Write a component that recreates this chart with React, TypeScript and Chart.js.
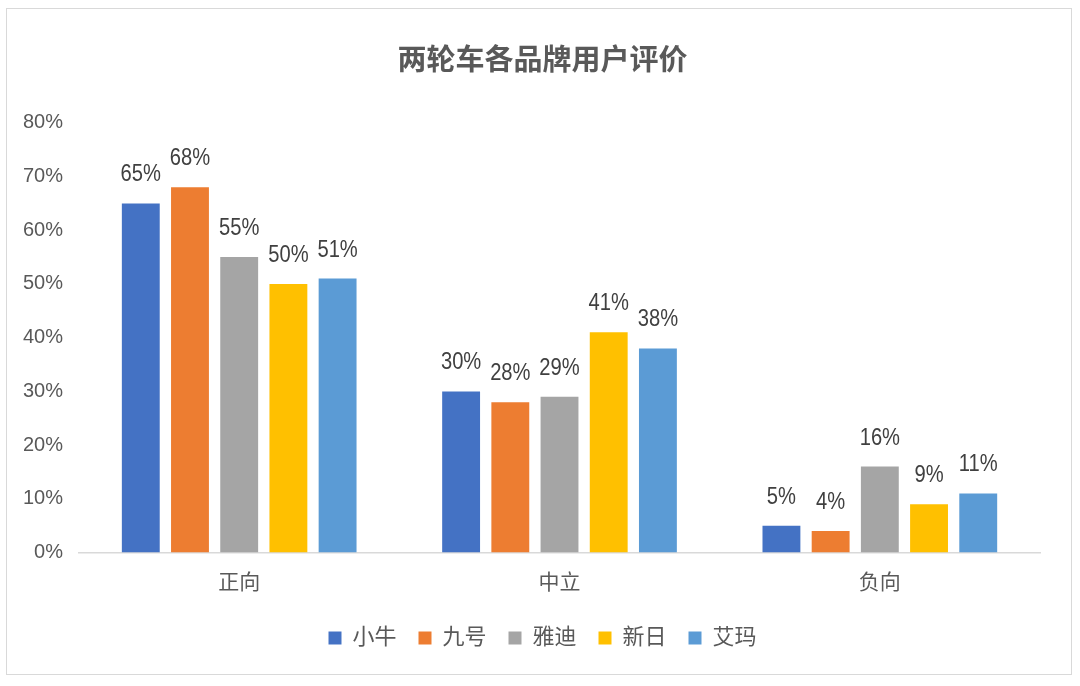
import { useEffect, useRef } from 'react';
import { Chart, registerables } from 'chart.js';
import type { Plugin } from 'chart.js';

Chart.register(...registerables);

// Chart data
const categories = ['正向', '中立', '负向'];
const brands = ['小牛', '九号', '雅迪', '新日', '艾玛'];
const xiaoniu = [65, 30, 5];
const jiuhao = [68, 28, 4];
const yadi = [55, 29, 16];
const xinri = [50, 41, 9];
const aima = [51, 38, 11];
const brandColors = ['#4472C4', '#ED7D31', '#A5A5A5', '#FFC000', '#5B9BD5'];

const FONT = '"Liberation Sans", "Noto Sans CJK SC", Arial, sans-serif';

// Draws the percentage above each bar (squeezed a little, like Excel's narrow digits)
const barLabels: Plugin<'bar'> = {
  id: 'barLabels',
  afterDatasetsDraw(chart) {
    const { ctx } = chart;
    chart.data.datasets.forEach((ds, i) => {
      const meta = chart.getDatasetMeta(i);
      meta.data.forEach((bar, j) => {
        const value = ds.data[j] as number;
        ctx.save();
        ctx.translate(bar.x, bar.y - 22);
        ctx.scale(0.84, 1);
        ctx.font = `24px ${FONT}`;
        ctx.fillStyle = '#404040';
        ctx.textAlign = 'center';
        ctx.textBaseline = 'alphabetic';
        ctx.fillText(`${value}%`, 0, 0);
        ctx.restore();
      });
    });
  },
};

// Centre title and legend on the whole frame rather than on the padded area
const centreBlocks: Plugin<'bar'> = {
  id: 'centreBlocks',
  afterLayout(chart) {
    const shift = 19;
    const blocks = [chart.legend, (chart as any).titleBlock];
    blocks.forEach((b) => {
      if (!b) return;
      b.left += shift;
      b.right += shift;
    });
  },
};

export default function App() {
  const canvasRef = useRef<HTMLCanvasElement>(null);
  const chartRef = useRef<Chart | null>(null);

  useEffect(() => {
    document.body.style.margin = '0';
    if (!canvasRef.current) return;

    if (chartRef.current) {
      chartRef.current.destroy();
      chartRef.current = null;
    }

    const series = [xiaoniu, jiuhao, yadi, xinri, aima];

    chartRef.current = new Chart(canvasRef.current, {
      type: 'bar',
      data: {
        labels: categories,
        datasets: series.map((values, i) => ({
          label: brands[i],
          data: values,
          backgroundColor: brandColors[i],
          borderWidth: 0,
          categoryPercentage: 0.768,
          barPercentage: 0.77,
        })),
      },
      options: {
        responsive: true,
        maintainAspectRatio: false,
        animation: false,
        layout: {
          padding: { left: 7, right: 40, top: 35, bottom: 27 },
        },
        plugins: {
          title: {
            display: true,
            text: '两轮车各品牌用户评价',
            color: '#595959',
            font: { family: FONT, size: 29, weight: 'bold' },
            padding: { top: 10, bottom: 43 },
          },
          legend: {
            position: 'bottom',
            labels: {
              color: '#595959',
              font: { family: FONT, size: 22 },
              boxWidth: 13,
              boxHeight: 13,
              padding: 22,
            },
          },
          tooltip: { enabled: false },
        },
        scales: {
          x: {
            grid: { display: false },
            border: { color: '#D9D9D9', width: 1.5 },
            ticks: {
              color: '#595959',
              font: { family: FONT, size: 21, lineHeight: 1.45 },
              padding: 7,
            },
          },
          y: {
            min: 0,
            max: 80,
            grid: { display: false, drawTicks: false },
            border: { display: false },
            ticks: {
              stepSize: 10,
              color: '#595959',
              font: { family: FONT, size: 20 },
              padding: 16,
              callback: (v) => `${v}%`,
            },
          },
        },
      },
      plugins: [barLabels, centreBlocks],
    });

    return () => {
      if (chartRef.current) {
        chartRef.current.destroy();
        chartRef.current = null;
      }
    };
  }, []);

  return (
    <div style={{ position: 'relative', width: 1080, height: 686, background: '#fff' }}>
      <div
        style={{
          position: 'absolute',
          left: 6,
          top: 8,
          width: 1066,
          height: 667,
          border: '1px solid #D9D9D9',
          boxSizing: 'border-box',
        }}
      />
      <div style={{ position: 'absolute', left: 0, top: 0, width: 1080, height: 686 }}>
        <canvas ref={canvasRef} />
      </div>
    </div>
  );
}
